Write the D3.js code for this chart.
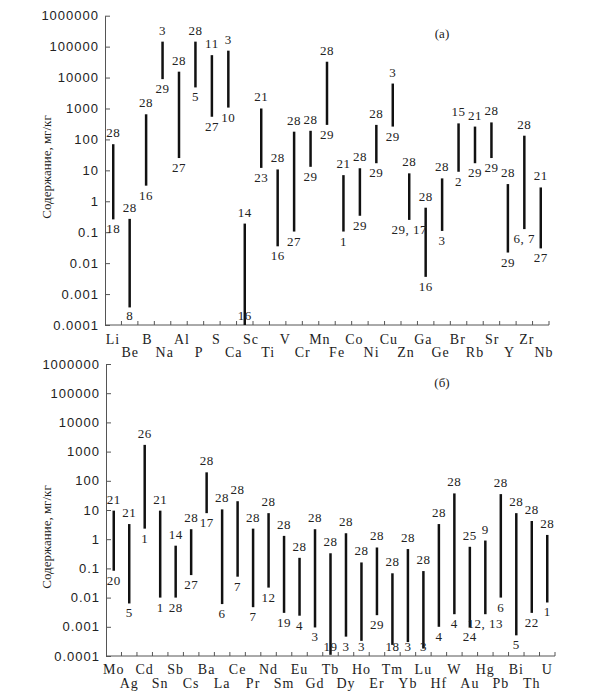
<!DOCTYPE html>
<html>
<head>
  <meta charset="UTF-8">
  <title>Содержание элементов</title>
  <script src="https://d3js.org/d3.v7.min.js"></script>
  <style>
    body { margin: 0; background: #fff; }
    svg { font-family: "Liberation Serif", "Times New Roman", serif; }
    .tick text { font-size: 13px; letter-spacing: 1px; fill: #222; }
    .tick line, .domain { stroke: #555; }
    .val { font-size: 13px; letter-spacing: 0.5px; fill: #222; text-anchor: middle; }
    .elem { font-size: 14px; letter-spacing: 1px; fill: #222; text-anchor: middle; }
    .bar { stroke: #111; stroke-width: 2.5px; }
  </style>
</head>
<body>
  <div id="chart"></div>
  <script>
    // панель (а)
    const elementsA = ["Li","Be","B","Na","Al","P","S","Ca","Sc","Ti","V","Cr","Mn",
                       "Fe","Co","Ni","Cu","Zn","Ga","Ge","Br","Rb","Sr","Y","Zr","Nb"];
    // 27 диапазонов (у Mn два)
    const maxA = [70, 0.27, 650, 145000, 15500, 145000, 53000, 74000, 0.19, 1000, 10.7, 178, 190,
                  32500, 7, 11.7, 295, 6400, 8, 0.62, 5.5, 330, 260, 355, 3.6, 132, 2.8];
    const minA = [0.26, 0.00037, 3.2, 8900, 25, 4800, 540, 1070, 0.0001, 12, 0.035, 0.105, 13,
                  295, 0.105, 0.34, 17, 260, 0.25, 0.0036, 0.11, 9, 17, 25, 0.022, 0.126, 0.03];
    const topRefA = ["28","28","28","3","28","28","11","3","14","21","28","28","28",
                     "28","21","28","28","3","28","28","28","15","21","28","28","28","21"];
    const botRefA = ["18","8","16","29","27","5","27","10","16","23","16","27","29",
                     "29","1","29","29","29","29, 17","16","3","2","29","29","29","6, 7","27"];

    // панель (б)
    const elementsB = ["Mo","Ag","Cd","Sn","Sb","Cs","Ba","La","Ce","Pr","Nd","Sm","Eu","Gd","Tb",
                       "Dy","Ho","Er","Tm","Yb","Lu","Hf","W","Au","Hg","Pb","Bi","Th","U"];
    const maxB = [9.5, 3.3, 1700, 9.5, 0.6, 2.2, 195, 10.5, 20, 2.3, 7.8, 1.3, 0.23, 2.2, 0.33,
                  1.6, 0.16, 0.52, 0.068, 0.46, 0.081, 3.3, 37, 0.55, 0.9, 35, 7.8, 4.2, 1.4];
    const minB = [0.083, 0.0063, 2.3, 0.01, 0.01, 0.059, 7.8, 0.006, 0.052, 0.0047, 0.022, 0.003, 0.0024, 0.00095, 0.00011,
                  0.00046, 0.00033, 0.0025, 0.00024, 0.0003, 0.00018, 0.001, 0.0027, 0.00095, 0.0027, 0.01, 0.00051, 0.003, 0.0068];
    const topRefB = ["21","21","26","21","14","28","28","28","28","28","28","28","28","28","28",
                     "28","28","28","28","28","28","28","28","25","9","28","28","28","28"];
    const botRefB = ["20","5","1","1","28","27","17","6","7","7","12","19","4","3","19",
                     "3","3","29","18","3","3","4","4","24","12, 13","6","5","22","1"];

    const yTicks = [1e-4, 1e-3, 1e-2, 0.1, 1, 10, 100, 1000, 1e4, 1e5, 1e6];

    const svg = d3.select("#chart").append("svg")
        .attr("width", 607)
        .attr("height", 697);

    drawPanel({
      names: elementsA, max: maxA, min: minA, topRef: topRefA, botRef: botRefA,
      left: 105, right: 549, top: 15.7, bottom: 325,
      labelRange: [113, 544], rowY: [343.5, 357],
      title: "(а)", titleY: 37.5, yTitleY: 167
    });

    drawPanel({
      names: elementsB, max: maxB, min: minB, topRef: topRefB, botRef: botRefB,
      left: 106, right: 555, top: 364, bottom: 656,
      labelRange: null, rowY: [674, 688],
      title: "(б)", titleY: 386.5, yTitleY: 537
    });

    function drawPanel(p) {
      const g = svg.append("g");
      const n = p.max.length;

      const x = d3.scaleBand()
          .domain(d3.range(n))
          .range([p.left, p.right]);

      const y = d3.scaleLog()
          .domain([1e-4, 1e6])
          .range([p.bottom, p.top]);

      // ось Y, риски внутрь
      g.append("g")
          .attr("transform", `translate(${p.left},0)`)
          .call(d3.axisLeft(y)
            .tickValues(yTicks)
            .tickFormat(d => String(d))
            .tickSizeInner(-5)
            .tickSizeOuter(0)
            .tickPadding(6));

      // ось X
      g.append("line")
          .attr("x1", p.left).attr("x2", p.right)
          .attr("y1", p.bottom).attr("y2", p.bottom)
          .attr("stroke", "#555");

      g.selectAll("line.xt")
        .data(d3.range(1, n + 1))
        .join("line")
          .attr("class", "xt")
          .attr("x1", i => i < n ? x(i) : p.right)
          .attr("x2", i => i < n ? x(i) : p.right)
          .attr("y1", p.bottom)
          .attr("y2", p.bottom - 4)
          .attr("stroke", "#555");

      const cx = i => x(i) + x.bandwidth() / 2;

      // диапазоны содержаний
      g.selectAll("line.bar")
        .data(d3.range(n))
        .join("line")
          .attr("class", "bar")
          .attr("x1", cx).attr("x2", cx)
          .attr("y1", i => y(p.min[i]))
          .attr("y2", i => y(p.max[i]));

      g.selectAll("text.vt")
        .data(d3.range(n))
        .join("text")
          .attr("class", "val vt")
          .attr("x", cx)
          .attr("y", i => y(p.max[i]) - 7)
          .text(i => p.topRef[i]);

      g.selectAll("text.vb")
        .data(d3.range(n))
        .join("text")
          .attr("class", "val vb")
          .attr("x", cx)
          .attr("y", i => Math.min(y(p.min[i]) + 14, p.bottom - 5))
          .text(i => p.botRef[i]);

      // подписи элементов в два ряда
      let lx;
      if (p.labelRange) {
        const pt = d3.scalePoint().domain(p.names).range(p.labelRange);
        lx = (d) => pt(d);
      } else {
        lx = (d, i) => cx(i);
      }
      g.selectAll("text.elem")
        .data(p.names)
        .join("text")
          .attr("class", "elem")
          .attr("x", (d, i) => lx(d, i))
          .attr("y", (d, i) => p.rowY[i % 2])
          .text(d => d);

      g.append("text")
          .attr("x", 442)
          .attr("y", p.titleY)
          .attr("text-anchor", "middle")
          .style("font-size", "13px")
          .style("fill", "#222")
          .text(p.title);

      g.append("text")
          .attr("transform", `translate(51,${p.yTitleY}) rotate(-90)`)
          .attr("text-anchor", "middle")
          .style("font-size", "13px")
          .style("fill", "#222")
          .text("Содержание, мг/кг");
    }
  </script>
</body>
</html>
